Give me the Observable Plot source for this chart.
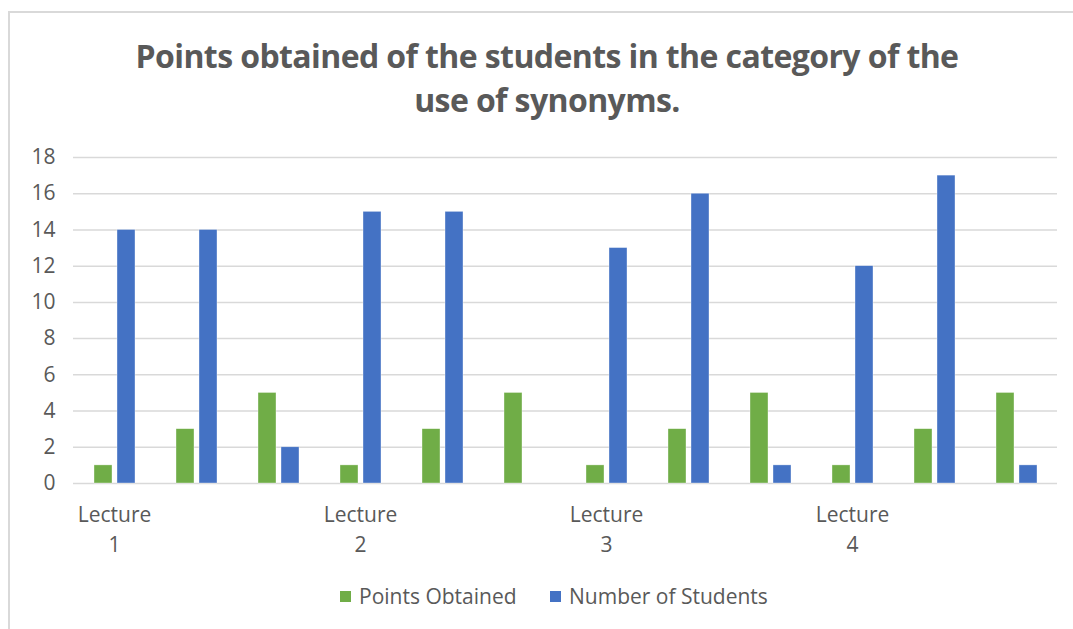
<!DOCTYPE html>
<html>
<head>
<meta charset="utf-8">
<script src="https://cdn.jsdelivr.net/npm/d3@7"></script>
<script src="https://cdn.jsdelivr.net/npm/@observablehq/plot@0.6"></script>
<style>
  html, body { margin: 0; padding: 0; background: #fff; }
  #wrap { position: relative; width: 1073px; height: 629px; overflow: hidden; font-family: "Open Sans", "Noto Sans", sans-serif; }
  #frame { position: absolute; left: 8px; top: 11px; right: -10px; bottom: -10px; border-left: 2px solid #d9d9d9; border-top: 2px solid #d9d9d9; }
  #title { position: absolute; left: 0; width: 1094px; top: 34px; text-align: center; font-family: "Open Sans", sans-serif; font-weight: 700; font-size: 32px; line-height: 44px; color: #595959; letter-spacing: -0.6px; }
  #chart { position: absolute; left: 0; top: 140px; }
  #legend { position: absolute; top: 581px; left: 0; width: 1073px; height: 30px; font-size: 21px; color: #595959; font-family: "Open Sans", sans-serif; }
  .li { position: absolute; top: 0; display: flex; align-items: center; height: 30px; }
  .sw { width: 11px; height: 11px; margin-right: 8px; }
</style>
</head>
<body>
<div id="wrap">
  <div id="frame"></div>
  <div id="title">Points obtained of the students in the category of the<br>use of synonyms.</div>
  <div id="chart"></div>
  <div id="legend"></div>
</div>
<script>
const categories = ["1","2","3","4","5","6","7","8","9","10","11","12"];
const tickLabels = {"1": "Lecture\n1", "4": "Lecture\n2", "7": "Lecture\n3", "10": "Lecture\n4"};
const seriesNames = ["Points Obtained", "Number of Students"];
const pointsObtained = [1, 3, 5, 1, 3, 5, 1, 3, 5, 1, 3, 5];
const numberOfStudents = [14, 14, 2, 15, 15, 0, 13, 16, 1, 12, 17, 1];
const colors = ["#70AD47", "#4472C4"];
const yTicks = [0, 2, 4, 6, 8, 10, 12, 14, 16, 18];

const data = [];
categories.forEach((c, i) => {
  data.push({cat: c, series: seriesNames[0], value: pointsObtained[i]});
  data.push({cat: c, series: seriesNames[1], value: numberOfStudents[i]});
});

const plot = Plot.plot({
  width: 1073,
  height: 420,
  marginLeft: 72,
  marginRight: 16,
  marginTop: 17,
  marginBottom: 77,
  style: {fontFamily: "'Open Sans', sans-serif", color: "#595959", background: "transparent"},
  fx: {domain: categories, padding: 0, label: null, axis: null},
  x: {domain: seriesNames, axis: null, paddingInner: 0.22, paddingOuter: 0.89},
  y: {domain: [0, 18], label: null},
  color: {domain: seriesNames, range: colors},
  marks: [
    Plot.ruleY(yTicks, {stroke: "#d9d9d9", strokeWidth: 1.5, strokeOpacity: 1}),
    Plot.axisY({ticks: yTicks, tickSize: 0, tickPadding: 18, fontSize: 21, fill: "#595959", label: null}),
    Plot.barY(data, {fx: "cat", x: "series", y: "value", fill: "series", stroke: "#ffffff", strokeWidth: 0.6, strokeOpacity: 0.6}),
    Plot.axisFx({anchor: "bottom", tickSize: 0, tickPadding: 18, fontSize: 21, fill: "#595959", lineHeight: 1.4, label: null,
      tickFormat: d => tickLabels[d] || ""})
  ]
});
document.getElementById("chart").appendChild(plot);

const legend = document.getElementById("legend");
const lx = [340, 550];
seriesNames.forEach((s, i) => {
  const item = document.createElement("div");
  item.className = "li";
  item.style.left = lx[i] + "px";
  const sw = document.createElement("div");
  sw.className = "sw";
  sw.style.background = colors[i];
  const t = document.createElement("span");
  t.textContent = s;
  item.appendChild(sw);
  item.appendChild(t);
  legend.appendChild(item);
});
</script>
</body>
</html>
